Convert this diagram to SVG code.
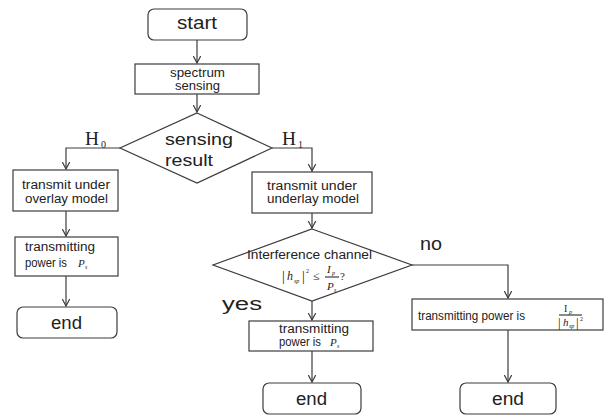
<svg xmlns="http://www.w3.org/2000/svg" width="608" height="415" viewBox="0 0 608 415">
<defs>
<style>
.box{fill:#fff;stroke:#3c3c3c;stroke-width:1.2}
.ln{fill:none;stroke:#3c3c3c;stroke-width:1.2}
.t{font-family:"Liberation Sans",Arial,sans-serif;fill:#222}
.m{font-family:"Liberation Serif","Times New Roman",serif;fill:#222}
.i{font-style:italic}
</style>
<marker id="ar" viewBox="0 0 8 8" refX="7.5" refY="4" markerWidth="8" markerHeight="8" markerUnits="userSpaceOnUse" orient="auto">
<path d="M0,0 L7.5,4 L0,8" fill="none" stroke="#3c3c3c" stroke-width="1.2"/>
</marker>
</defs>
<rect width="608" height="415" fill="#fff"/>

<g id="connectors">
<path class="ln" d="M197,40 V63" marker-end="url(#ar)"/>
<path class="ln" d="M197,94 V112" marker-end="url(#ar)"/>
<path class="ln" d="M120,148 H66 V169" marker-end="url(#ar)"/>
<path class="ln" d="M272,148 H312 V171" marker-end="url(#ar)"/>
<path class="ln" d="M66,211 V236" marker-end="url(#ar)"/>
<path class="ln" d="M66,276 V306" marker-end="url(#ar)"/>
<path class="ln" d="M312,213 V228" marker-end="url(#ar)"/>
<path class="ln" d="M312,301 V320" marker-end="url(#ar)"/>
<path class="ln" d="M312,351 V382" marker-end="url(#ar)"/>
<path class="ln" d="M412,265 H508 V298" marker-end="url(#ar)"/>
<path class="ln" d="M508,330 V382" marker-end="url(#ar)"/>
<text class="m" x="85" y="145" font-size="18" textLength="14" lengthAdjust="spacingAndGlyphs">H</text>
<text class="m" x="101" y="148" font-size="10">0</text>
<text class="m" x="282" y="145" font-size="18" textLength="14" lengthAdjust="spacingAndGlyphs">H</text>
<text class="m" x="298" y="148" font-size="10">1</text>
<text class="t" x="222" y="310" font-size="17.5" textLength="40" lengthAdjust="spacingAndGlyphs">yes</text>
<text class="t" x="420" y="250" font-size="17.5" textLength="22" lengthAdjust="spacingAndGlyphs">no</text>
</g>

<g id="start">
<rect class="box" x="148" y="9" width="99" height="31" rx="6"/>
<text class="t" x="177" y="29" font-size="17.5" textLength="40" lengthAdjust="spacingAndGlyphs">start</text>
</g>

<g id="spectrum-sensing">
<rect class="box" x="135" y="64" width="124" height="30"/>
<text class="t" x="170" y="77" font-size="12" textLength="55" lengthAdjust="spacingAndGlyphs">spectrum</text>
<text class="t" x="175" y="90" font-size="12" textLength="45" lengthAdjust="spacingAndGlyphs">sensing</text>
</g>

<g id="sensing-result">
<path class="box" d="M197,113 L272,148 L197,183 L120,148 Z"/>
<text class="t" x="165" y="145" font-size="17" textLength="68" lengthAdjust="spacingAndGlyphs">sensing</text>
<text class="t" x="165" y="166" font-size="17" textLength="48" lengthAdjust="spacingAndGlyphs">result</text>
</g>

<g id="overlay">
<rect class="box" x="13" y="170" width="105" height="41"/>
<text class="t" x="22" y="189" font-size="12.5" textLength="88" lengthAdjust="spacingAndGlyphs">transmit under</text>
<text class="t" x="25" y="203" font-size="12.5" textLength="83" lengthAdjust="spacingAndGlyphs">overlay model</text>
</g>

<g id="power-overlay">
<rect class="box" x="15" y="237" width="103" height="39"/>
<text class="t" x="25" y="251" font-size="12.5" textLength="70" lengthAdjust="spacingAndGlyphs">transmitting</text>
<text class="t" x="25" y="267" font-size="12.5" textLength="42" lengthAdjust="spacingAndGlyphs">power is</text>
<text class="m i" x="78" y="267" font-size="11">P</text>
<text class="m i" x="85" y="269" font-size="6">s</text>
</g>

<g id="end-left">
<rect class="box" x="17" y="307" width="100" height="31" rx="6"/>
<text class="t" x="51" y="329" font-size="17.5" textLength="31" lengthAdjust="spacingAndGlyphs">end</text>
</g>

<g id="underlay">
<rect class="box" x="252" y="172" width="120" height="41"/>
<text class="t" x="267" y="190" font-size="12.5" textLength="90" lengthAdjust="spacingAndGlyphs">transmit under</text>
<text class="t" x="267" y="203" font-size="12.5" textLength="92" lengthAdjust="spacingAndGlyphs">underlay model</text>
</g>

<g id="interference">
<path class="box" d="M312,229 L412,265 L312,301 L213,265 Z"/>
<text class="t" x="247" y="259" font-size="12" textLength="125" lengthAdjust="spacingAndGlyphs">Interference channel</text>
<text class="m" x="282" y="281" font-size="14">|</text>
<text class="m i" x="287" y="280" font-size="12">h</text>
<text class="m i" x="294" y="283" font-size="6">sp</text>
<text class="m" x="302" y="281" font-size="14">|</text>
<text class="m" x="306" y="273" font-size="6">2</text>
<text class="m" x="313" y="280" font-size="12">≤</text>
<text class="m i" x="327" y="273" font-size="11">I</text>
<text class="m i" x="332" y="275" font-size="6">p</text>
<line class="ln" x1="325" y1="277" x2="339" y2="277" stroke-width="0.8"/>
<text class="m i" x="327" y="290" font-size="11">P</text>
<text class="m i" x="334" y="292" font-size="6">s</text>
<text class="m" x="340" y="280" font-size="11">?</text>
</g>

<g id="power-underlay">
<rect class="box" x="249" y="321" width="124" height="30"/>
<text class="t" x="279" y="333" font-size="12.5" textLength="70" lengthAdjust="spacingAndGlyphs">transmitting</text>
<text class="t" x="279" y="346" font-size="12.5" textLength="42" lengthAdjust="spacingAndGlyphs">power is</text>
<text class="m i" x="330" y="346" font-size="11">P</text>
<text class="m i" x="337" y="348" font-size="6">s</text>
</g>

<g id="end-middle">
<rect class="box" x="263" y="383" width="98" height="31" rx="6"/>
<text class="t" x="296" y="405" font-size="17.5" textLength="31" lengthAdjust="spacingAndGlyphs">end</text>
</g>

<g id="power-fraction">
<rect class="box" x="412" y="299" width="191" height="31"/>
<text class="t" x="418" y="320" font-size="12" textLength="107" lengthAdjust="spacingAndGlyphs">transmitting power is</text>
<text class="m" x="564" y="312" font-size="10">I</text>
<text class="m i" x="569" y="314" font-size="6">p</text>
<line class="ln" x1="559" y1="315" x2="582" y2="315" stroke-width="0.8"/>
<text class="m" x="558" y="327" font-size="13">|</text>
<text class="m i" x="563" y="326" font-size="11">h</text>
<text class="m i" x="569" y="328" font-size="6">sp</text>
<text class="m" x="576" y="327" font-size="13">|</text>
<text class="m" x="580" y="321" font-size="6">2</text>
</g>

<g id="end-right">
<rect class="box" x="460" y="383" width="96" height="31" rx="6"/>
<text class="t" x="492" y="405" font-size="17.5" textLength="32" lengthAdjust="spacingAndGlyphs">end</text>
</g>
</svg>
